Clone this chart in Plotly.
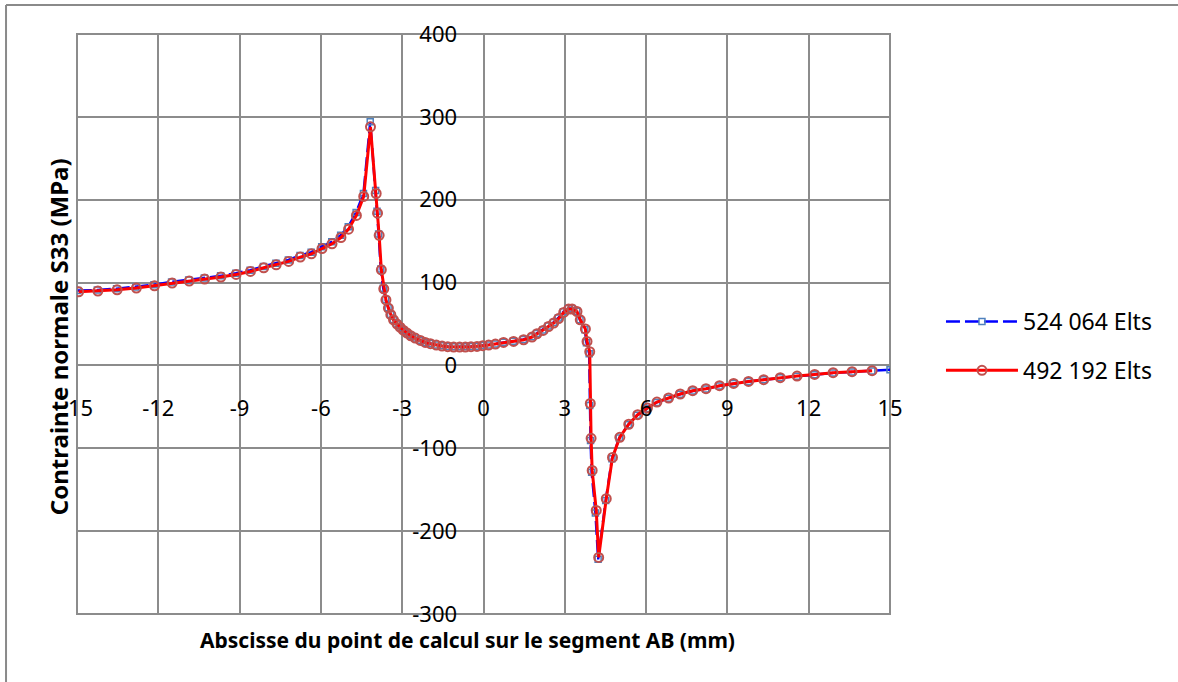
import plotly.graph_objects as go

# Abscisse (mm) et contrainte S33 (MPa) - maillage 492 192 elements
x_492 = [-14.94, -14.23, -13.52, -12.81, -12.14, -11.49, -10.86, -10.29, -9.69, -9.13,
         -8.60, -8.11, -7.65, -7.19, -6.76, -6.35, -5.96, -5.59, -5.26, -4.98,
         -4.69, -4.42, -4.17, -3.96, -3.91, -3.85, -3.77, -3.68, -3.60, -3.51,
         -3.42, -3.32, -3.19, -3.07, -2.95, -2.82, -2.68, -2.52, -2.33, -2.15,
         -1.96, -1.74, -1.53, -1.32, -1.10, -0.88, -0.67, -0.46, -0.24, -0.03,
         0.19, 0.44, 0.74, 1.11, 1.48, 1.79, 1.97, 2.20, 2.40, 2.59,
         2.77, 2.96, 3.14, 3.27, 3.45, 3.57, 3.76, 3.82, 3.92, 3.94,
         3.97, 4.01, 4.16, 4.25, 4.53, 4.76, 5.03, 5.36, 5.69, 6.05,
         6.40, 6.83, 7.26, 7.72, 8.21, 8.71, 9.23, 9.78, 10.34, 10.95,
         11.57, 12.22, 12.90, 13.60, 14.34]
s_492 = [88.9, 89.7, 91.3, 93.4, 96.1, 99.4, 101.8, 104.2, 106.6, 109.8,
         113.4, 117.9, 121.5, 125.5, 130.8, 134.7, 141.1, 146.8, 154.4, 164.5,
         181.0, 203.9, 288.0, 207.5, 183.8, 157.0, 115.4, 92.5, 79.0, 69.2,
         61.2, 55.1, 49.9, 45.8, 42.2, 39.0, 35.8, 33.0, 30.2, 27.7,
         26.2, 24.6, 23.4, 22.6, 22.2, 22.2, 22.2, 22.6, 22.9, 23.8,
         24.6, 25.8, 27.7, 29.0, 31.0, 34.3, 38.2, 42.2, 47.0, 51.1,
         56.5, 63.9, 68.0, 68.0, 65.1, 55.1, 44.0, 29.0, 16.5, -45.8,
         -88.0, -126.7, -175.0, -231.7, -160.8, -111.0, -86.7, -71.0, -59.5, -51.5,
         -44.2, -39.3, -34.5, -30.5, -28.1, -24.5, -21.7, -19.3, -17.2, -14.8,
         -12.8, -10.9, -8.8, -7.6, -6.4]

# maillage 524 064 elements
x_524 = [-14.97, -14.25, -13.54, -12.83, -12.16, -11.51, -10.88, -10.30, -9.70, -9.14,
         -8.61, -8.12, -7.66, -7.20, -6.77, -6.36, -5.97, -5.60, -5.27, -4.99,
         -4.70, -4.43, -4.18, -3.98, -3.93, -3.87, -3.79, -3.70, -3.61, -3.52,
         -3.43, -3.33, -3.20, -3.08, -2.96, -2.83, -2.69, -2.53, -2.34, -2.16,
         -1.97, -1.75, -1.54, -1.33, -1.11, -0.89, -0.68, -0.47, -0.25, -0.04,
         0.18, 0.43, 0.73, 1.10, 1.47, 1.78, 1.96, 2.19, 2.39, 2.58,
         2.76, 2.95, 3.13, 3.26, 3.44, 3.56, 3.74, 3.80, 3.90, 3.92,
         3.95, 3.99, 4.13, 4.23, 4.51, 4.74, 5.01, 5.34, 5.67, 6.03,
         6.39, 6.82, 7.25, 7.71, 8.20, 8.70, 9.22, 9.77, 10.33, 10.94,
         11.56, 12.21, 12.89, 13.59, 14.33, 15.0]
s_524 = [90.3, 91.0, 92.6, 94.8, 97.5, 100.8, 103.2, 105.6, 108.1, 111.3,
         115.0, 119.5, 123.2, 127.3, 132.7, 136.7, 143.3, 149.2, 157.0, 167.5,
         184.5, 207.5, 294.0, 211.0, 186.0, 158.5, 116.5, 93.0, 79.5, 69.6,
         61.5, 55.4, 50.1, 46.0, 42.4, 39.2, 36.0, 33.2, 30.4, 27.9,
         26.4, 24.8, 23.6, 22.8, 22.4, 22.4, 22.4, 22.8, 23.1, 24.0,
         24.8, 26.0, 27.9, 29.2, 31.3, 34.7, 38.6, 42.7, 47.6, 51.8,
         57.3, 64.8, 68.8, 68.6, 65.5, 55.0, 43.0, 27.5, 14.0, -48.5,
         -90.5, -129.0, -178.0, -234.0, -163.0, -112.5, -87.6, -71.6, -60.0, -51.9,
         -44.6, -39.6, -34.8, -30.8, -28.3, -24.7, -21.9, -19.5, -17.4, -15.0,
         -13.0, -11.1, -9.0, -7.8, -6.6, -5.2]

x_ticks = [-15, -12, -9, -6, -3, 0, 3, 6, 9, 12, 15]
y_ticks = [-300, -200, -100, 0, 100, 200, 300, 400]

GRID = '#8c8c8c'
FONT = 'Noto Sans'

fig = go.Figure()

fig.add_trace(go.Scatter(
    x=x_524, y=s_524, name='524 064 Elts', mode='lines+markers',
    legendgroup='a',
    line=dict(color='#0000FF', width=2.5, dash='14px,5px'),
    marker=dict(symbol='square-open', size=6, color='#4F81BD', line=dict(width=1.5)),
))
fig.add_trace(go.Scatter(
    x=x_492, y=s_492, name='492 192 Elts', mode='lines+markers',
    legendgroup='b',
    line=dict(color='#FF0000', width=3),
    marker=dict(symbol='circle-open', size=9, color='#C0504D', line=dict(width=2)),
))

# cadre de la zone de tracé
fig.add_shape(type='rect', xref='x domain', yref='y domain', x0=0, x1=1, y0=0, y1=1,
              line=dict(color=GRID, width=2), layer='below')
# cadre extérieur du graphique
fig.add_shape(type='line', xref='paper', yref='paper', x0=-0.0873, x1=1.4, y0=1.05, y1=1.05,
              line=dict(color='#8a8a8a', width=2), layer='above')
fig.add_shape(type='line', xref='paper', yref='paper', x0=-0.0873, x1=-0.0873, y0=-0.2, y1=1.05,
              line=dict(color='#8a8a8a', width=2), layer='above')
# le signe moins de "-15" est masqué par le titre dans l'original
fig.add_shape(type='rect', xref='paper', yref='paper', x0=-0.029, x1=-0.0105, y0=0.335, y1=0.372,
              line=dict(width=0), fillcolor='white', layer='above')

fig.update_xaxes(
    range=[-15, 15], tickvals=x_ticks, ticktext=[str(v) for v in x_ticks],
    anchor='free', position=300 / 700,
    showgrid=True, gridcolor=GRID, gridwidth=2, zeroline=False,
    showline=False, ticks='', ticklabelstandoff=28,
    tickfont=dict(family=FONT, size=22, color='black'),
)
fig.update_yaxes(
    range=[-300, 400], tickvals=y_ticks, ticktext=[str(v) for v in y_ticks],
    anchor='free', position=0.5,
    showgrid=True, gridcolor=GRID, gridwidth=2, zeroline=False,
    showline=False, ticks='outside', ticklen=8, tickwidth=2, tickcolor=GRID,
    ticklabelstandoff=14,
    tickfont=dict(family=FONT, size=22, color='black'),
)

fig.add_annotation(
    text='Abscisse du point de calcul sur le segment AB (mm)',
    xref='paper', yref='paper', x=0.48, y=-0.045, xanchor='center', yanchor='middle',
    showarrow=False, font=dict(family=FONT, size=21, color='black', weight='bold'),
)
fig.add_annotation(
    text='Contrainte normale S33 (MPa)', textangle=-90,
    xref='paper', yref='paper', x=-0.0234, y=0.479, xanchor='center', yanchor='middle',
    showarrow=False,
    font=dict(family=FONT, size=24, color='black', weight='bold'),
)

fig.update_layout(
    width=1178, height=682,
    margin=dict(l=77, r=288, t=34, b=68),
    paper_bgcolor='white', plot_bgcolor='white',
    legend=dict(x=1.0627, y=0.5415, xanchor='left', yanchor='top',
                font=dict(family=FONT, size=23, color='black'),
                tracegroupgap=16, itemwidth=72, bgcolor='rgba(0,0,0,0)'),
    showlegend=True,
)

fig.write_html('out.html', config={'displayModeBar': False},
               post_script="document.body.style.margin='0px';")
